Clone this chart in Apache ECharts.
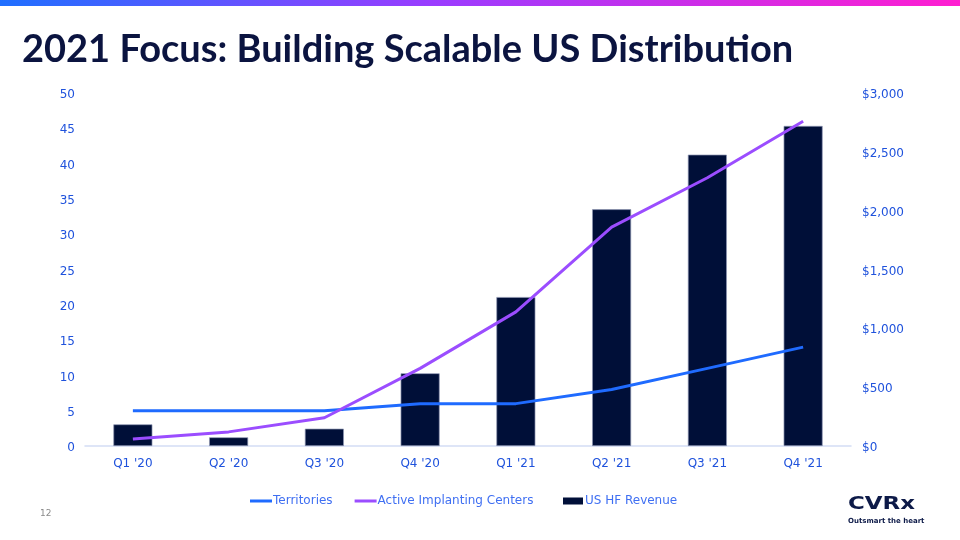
<!DOCTYPE html>
<html><head><meta charset="utf-8">
<script src="https://cdn.jsdelivr.net/npm/echarts@6/dist/echarts.min.js"></script>
<style>html,body{margin:0;padding:0;background:#fff}#c{width:960px;height:540px}</style>
</head><body><div id="c"></div>
<script>
const categories = ["Q1 '20","Q2 '20","Q3 '20","Q4 '20","Q1 '21","Q2 '21","Q3 '21","Q4 '21"];
const territories = [5,5,5,6,6,8,11,14];
const implantingCenters = [1,2,4,11,19,31,38,46];
const usHfRevenue = [184,74,147,618,1266,2012,2476,2720];
const leftTicks = {min:0,max:50,interval:5};
const rightTicks = {min:0,max:3000,interval:500};

const labelColor = '#1f52dc';
const shiftRich = {a:{color:labelColor,fontSize:12,fontFamily:'DejaVu Sans',padding:[4,0,0,0]}};
const chart = echarts.init(document.getElementById('c'));
chart.setOption({
  animation:false,
  textStyle:{fontFamily:'DejaVu Sans'},
  graphic:[
    {type:'rect',left:0,top:0,shape:{width:960,height:6},style:{fill:new echarts.graphic.LinearGradient(0,0,1,0,[{offset:0,color:'#1f6fff'},{offset:0.45,color:'#9a3cff'},{offset:1,color:'#ff1ed0'}])}},
    {type:'text',left:22,top:31,style:{text:'2021 Focus: Building Scalable US Distribution',font:'bold 38px Lato',fill:'#0b1440'}},
    {type:'text',left:40,top:509,style:{text:'12',font:'9px DejaVu Sans',fill:'#8a8a8a'}},
    {type:'text',x:848,y:496,scaleX:1.35,style:{text:'CVRx',font:'bold 17px "DejaVu Sans"',fill:'#0d1a48'}},
    {type:'text',left:848,top:518,style:{text:'Outsmart the heart',font:'bold 7px "DejaVu Sans"',fill:'#0d1a48'}}
  ],
  grid:{left:85,right:109,top:93,bottom:94},
  legend:[
    {data:['Territories','Active Implanting Centers'],left:250,top:495,padding:0,itemWidth:22,itemHeight:3,icon:'rect',itemGap:22,
     itemStyle:{borderWidth:0},
     textStyle:{color:'#3f6ff2',fontSize:12,fontFamily:'DejaVu Sans',padding:[0,0,0,-4]}},
    {data:['US HF Revenue'],left:563,top:495,padding:0,itemWidth:20,itemHeight:7,icon:'rect',
     itemStyle:{borderWidth:0},
     textStyle:{color:'#3f6ff2',fontSize:12,fontFamily:'DejaVu Sans',padding:[0,0,0,-3]}}
  ],
  xAxis:{type:'category',data:categories,
    axisLine:{lineStyle:{color:'#d3ddf5',width:1.5}},axisTick:{show:false},
    axisLabel:{color:labelColor,fontSize:12,margin:12}},
  yAxis:[
    {type:'value',min:leftTicks.min,max:leftTicks.max,interval:leftTicks.interval,splitLine:{show:false},
     axisLine:{show:false},axisTick:{show:false},
     axisLabel:{color:labelColor,fontSize:12,margin:10,formatter:v=>'{a|'+v+'}',rich:shiftRich}},
    {type:'value',min:rightTicks.min,max:rightTicks.max,interval:rightTicks.interval,splitLine:{show:false},
     axisLine:{show:false},axisTick:{show:false},
     axisLabel:{color:labelColor,fontSize:12,margin:11,formatter:v=>'{a|$'+v.toLocaleString('en-US')+'}',rich:shiftRich}}
  ],
  series:[
    {name:'US HF Revenue',type:'bar',yAxisIndex:1,data:usHfRevenue,barWidth:39,
     itemStyle:{color:'#000f38',borderColor:'#8e97b3',borderWidth:0.7}},
    {name:'Territories',type:'line',data:territories,symbol:'none',lineStyle:{color:'#1f6bff',width:3},itemStyle:{color:'#1f6bff'}},
    {name:'Active Implanting Centers',type:'line',data:implantingCenters,symbol:'none',lineStyle:{color:'#9b4dff',width:3},itemStyle:{color:'#9b4dff'}}
  ]
});
</script></body></html>
